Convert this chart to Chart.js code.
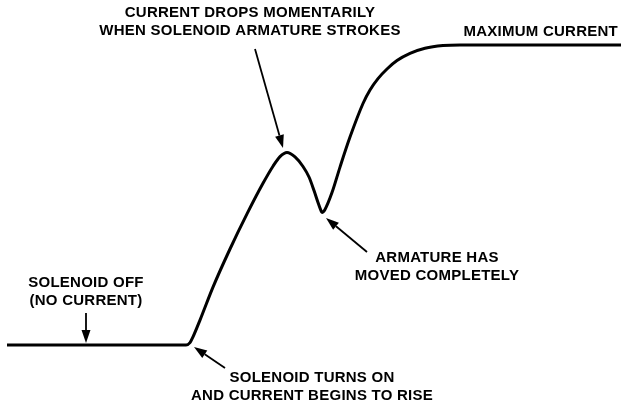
<!DOCTYPE html>
<html>
<head>
<meta charset="utf-8">
<script src="https://cdn.jsdelivr.net/npm/chart.js@4"></script>
<style>
  body { margin: 0; background: #fff; }
  #wrap { width: 621px; height: 407px; position: relative; }
</style>
</head>
<body>
<div id="wrap"><canvas id="chartSolenoide"></canvas></div>
<script>
// tiempo (unidades arbitrarias) y corriente (% del máximo)
const tiempo    = [7, 186, 190, 193, 200, 213, 230, 247, 263, 273, 280, 287, 295, 303, 309, 314, 318, 320.5, 322, 325, 332, 340, 350, 363, 370, 378, 387, 397, 410, 425, 443, 460, 621];
const corriente = [0, 0, 0.8, 2.7, 8.3, 19.3, 32, 43.7, 53.9, 59.6, 62.8, 64.2, 62.7, 59.5, 56, 51.5, 47.5, 45.2, 44.2, 45.2, 50.8, 59.3, 69.3, 80.5, 85, 88.8, 92, 94.8, 97.2, 98.9, 99.8, 100, 100];

// textos de las anotaciones
const notas = [
  { lineas: ['CURRENT DROPS MOMENTARILY', 'WHEN SOLENOID ARMATURE STROKES'], x: 250, y: 13, align: 'center' },
  { lineas: ['MAXIMUM CURRENT'], x: 618, y: 32, align: 'right' },
  { lineas: ['ARMATURE HAS', 'MOVED COMPLETELY'], x: 437, y: 258, align: 'center' },
  { lineas: ['SOLENOID OFF', '(NO CURRENT)'], x: 86, y: 283, align: 'center' },
  { lineas: ['SOLENOID TURNS ON', 'AND CURRENT BEGINS TO RISE'], x: 312, y: 378, align: 'center' }
];

// flechas: desde (x1,y1) hasta la punta (x2,y2)
const flechas = [
  [255, 49, 283, 148],
  [367, 252, 326, 218],
  [86, 313, 86, 343],
  [225, 368, 194, 347]
];

const puntos = tiempo.map((t, i) => ({ x: t, y: corriente[i] }));

function dibujarFlecha(ctx, x1, y1, x2, y2) {
  const ang = Math.atan2(y2 - y1, x2 - x1);
  const largo = 13, ancho = 4.5;
  const bx = x2 - largo * Math.cos(ang), by = y2 - largo * Math.sin(ang);
  ctx.beginPath();
  ctx.moveTo(x1, y1);
  ctx.lineTo(bx, by);
  ctx.lineWidth = 1.8;
  ctx.strokeStyle = '#000';
  ctx.stroke();
  ctx.beginPath();
  ctx.moveTo(x2, y2);
  ctx.lineTo(bx + ancho * Math.sin(ang), by - ancho * Math.cos(ang));
  ctx.lineTo(bx - ancho * Math.sin(ang), by + ancho * Math.cos(ang));
  ctx.closePath();
  ctx.fillStyle = '#000';
  ctx.fill();
}

const anotaciones = {
  id: 'anotaciones',
  afterDraw(chart) {
    const ctx = chart.ctx;
    ctx.save();
    ctx.font = 'bold 15px "Liberation Sans", Arial, sans-serif';
    ctx.letterSpacing = '0.25px';
    ctx.fillStyle = '#000';
    ctx.textBaseline = 'middle';
    notas.forEach(n => {
      ctx.textAlign = n.align;
      n.lineas.forEach((l, i) => ctx.fillText(l, n.x, n.y + i * 18));
    });
    flechas.forEach(f => dibujarFlecha(ctx, ...f));
    ctx.restore();
  }
};

new Chart(document.getElementById('chartSolenoide'), {
  type: 'scatter',
  data: {
    datasets: [{
      data: puntos,
      showLine: true,
      borderColor: '#000',
      borderWidth: 3,
      pointRadius: 0,
      cubicInterpolationMode: 'monotone',
      borderCapStyle: 'butt'
    }]
  },
  options: {
    responsive: true,
    maintainAspectRatio: false,
    animation: false,
    layout: { padding: 0 },
    plugins: { legend: { display: false }, tooltip: { enabled: false } },
    scales: {
      x: { type: 'linear', display: false, min: 0, max: 621 },
      y: { type: 'linear', display: false, min: -62 / 3, max: 115 }
    }
  },
  plugins: [anotaciones]
});
</script>
</body>
</html>
